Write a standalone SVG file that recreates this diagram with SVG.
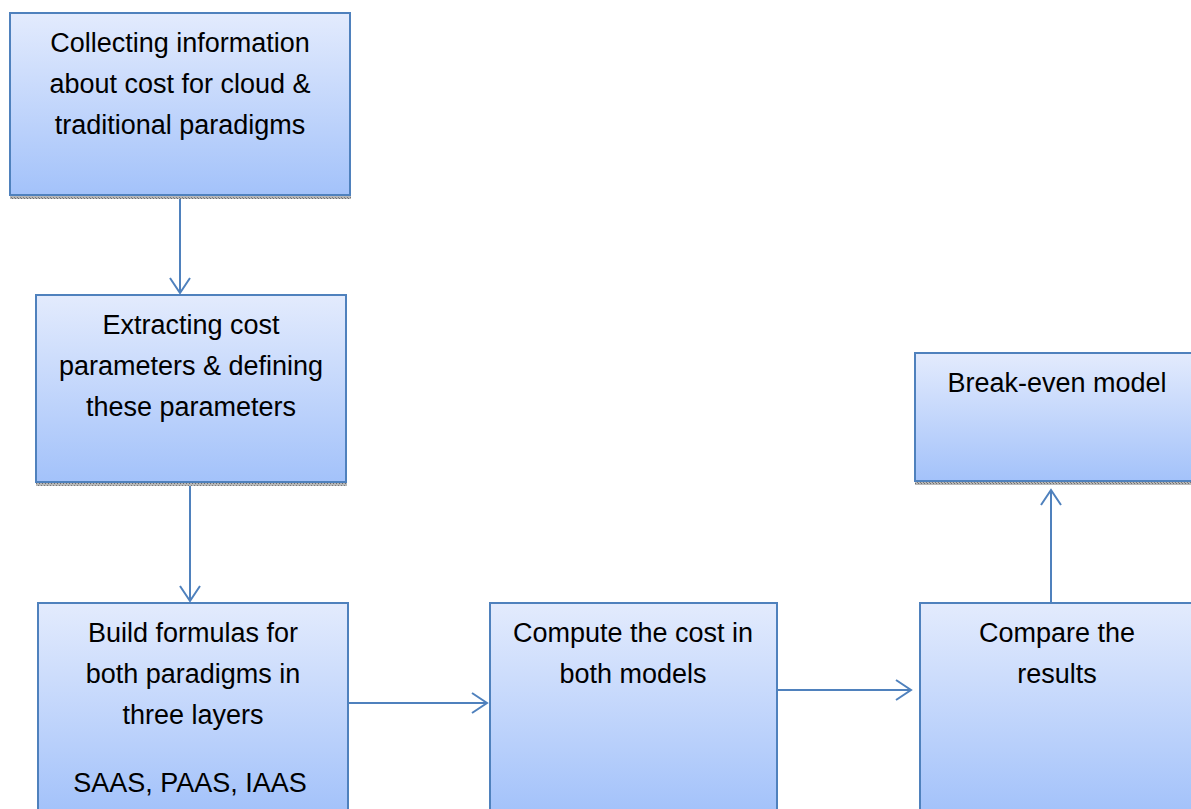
<svg xmlns="http://www.w3.org/2000/svg" width="1191" height="809" viewBox="0 0 1191 809">
<defs>
<linearGradient id="g" x1="0" y1="0" x2="0" y2="1">
<stop offset="0" stop-color="#e3ebfd"/>
<stop offset="1" stop-color="#a3c2fa"/>
</linearGradient>
<pattern id="hatch" width="3" height="3" patternUnits="userSpaceOnUse">
<rect width="3" height="3" fill="#b8b8b8"/>
<rect width="1" height="1" fill="#6e6e6e"/>
<rect x="2" y="2" width="1" height="1" fill="#7a7a7a"/>
</pattern>
<marker id="arr" markerWidth="18" markerHeight="24" refX="16" refY="12" orient="auto" markerUnits="userSpaceOnUse">
<path d="M1,2 L16,12 L1,22" fill="none" stroke="#4f81bd" stroke-width="2"/>
</marker>
</defs>
<style>
.box{fill:url(#g);stroke:#4f81bd;stroke-width:2}
.sh{fill:url(#hatch)}
.t{font-family:"Liberation Sans",Arial,sans-serif;font-size:27px;fill:#000;text-anchor:middle}
.c{stroke:#4f81bd;stroke-width:2;fill:none;marker-end:url(#arr)}
</style>
<g id="connectors">
<line class="c" x1="180" y1="197" x2="180" y2="293"/>
<line class="c" x1="190" y1="486" x2="190" y2="601"/>
<line class="c" x1="346" y1="703" x2="487" y2="703"/>
<line class="c" x1="777" y1="690" x2="911" y2="690"/>
<line class="c" x1="1051" y1="603" x2="1051" y2="490"/>
</g>
<g id="n1">
<rect class="sh" x="10" y="195" width="341" height="4"/>
<rect class="box" x="10" y="13" width="340" height="182"/>
<text class="t" x="180" y="52">Collecting information</text>
<text class="t" x="180" y="93">about cost for cloud &amp;</text>
<text class="t" x="180" y="134">traditional paradigms</text>
</g>
<g id="n2">
<rect class="sh" x="36" y="482" width="311" height="4"/>
<rect class="box" x="36" y="295" width="310" height="187"/>
<text class="t" x="191" y="334">Extracting cost</text>
<text class="t" x="191" y="375">parameters &amp; defining</text>
<text class="t" x="191" y="416">these parameters</text>
</g>
<g id="n3">
<rect class="box" x="38" y="603" width="310" height="210"/>
<text class="t" x="193" y="642">Build formulas for</text>
<text class="t" x="193" y="683">both paradigms in</text>
<text class="t" x="193" y="724">three layers</text>
<text class="t" x="190" y="792">SAAS, PAAS, IAAS</text>
</g>
<g id="n4">
<rect class="box" x="490" y="603" width="287" height="210"/>
<text class="t" x="633" y="642">Compute the cost in</text>
<text class="t" x="633" y="683">both models</text>
</g>
<g id="n5">
<rect class="box" x="920" y="603" width="280" height="210"/>
<text class="t" x="1057" y="642">Compare the</text>
<text class="t" x="1057" y="683">results</text>
</g>
<g id="n6">
<rect class="sh" x="915" y="481" width="280" height="4"/>
<rect class="box" x="915" y="353" width="285" height="128"/>
<text class="t" x="1057" y="392">Break-even model</text>
</g>
</svg>
